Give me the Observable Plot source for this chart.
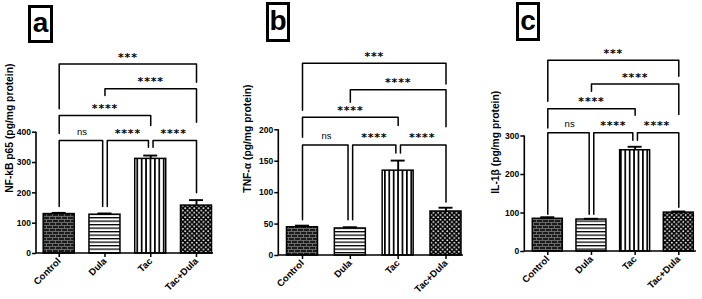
<!DOCTYPE html>
<html><head><meta charset="utf-8">
<script src="https://cdn.jsdelivr.net/npm/d3@7"></script>
<script src="https://cdn.jsdelivr.net/npm/@observablehq/plot@0.6"></script>
<style>
body{margin:0;background:#fff;}
#wrap{position:relative;width:702px;height:299px;display:flex;overflow:hidden;}
.panel{position:relative;flex:none;}
.tag{position:absolute;border:3px solid #000;box-sizing:border-box;font:bold 28px "Liberation Sans",Arial,sans-serif;display:flex;align-items:center;justify-content:center;line-height:1;padding-bottom:2px;}
</style></head><body><div id="wrap"></div>
<script>
// ---- data ----
const categories = ["Control", "Dula", "Tac", "Tac+Dula"];

const nfkbMean = [130, 128, 312, 158];
const nfkbErr  = [4, 4, 11, 18];
const nfkbTicks = [0, 100, 200, 300, 400];

const tnfMean = [45, 43, 135, 70];
const tnfErr  = [2.5, 2, 16, 6];
const tnfTicks = [0, 50, 100, 150, 200];

const il1Mean = [85, 83, 263, 101];
const il1Err  = [4, 2, 9, 3];
const il1Ticks = [0, 100, 200, 300];

// brackets: from, to, level value, left leg end, right leg end, label
const nfkbBrackets = [
  {from:0, to:1, y:373, yL:155, yR:155, label:"ns"},
  {from:1, to:2, y:373, yL:155, yR:350, label:"****"},
  {from:2, to:3, y:373, yL:350, yR:200, label:"****"},
  {from:0, to:2, y:455, yL:396, yR:422, label:"****"},
  {from:1, to:3, y:543, yL:521, yR:433, label:"****"},
  {from:0, to:3, y:625, yL:477, yR:565, label:"***"}
];
const tnfBrackets = [
  {from:0, to:1, y:176, yL:57, yR:57, label:"ns"},
  {from:1, to:2, y:176, yL:57, yR:163, label:"****"},
  {from:2, to:3, y:176, yL:163, yR:85, label:"****"},
  {from:0, to:2, y:220, yL:188, yR:207, label:"****"},
  {from:1, to:3, y:263.6, yL:244, yR:205, label:"****"},
  {from:0, to:3, y:306, yL:231, yR:273, label:"***"}
];
const il1Brackets = [
  {from:0, to:1, y:308.5, yL:97, yR:97, label:"ns"},
  {from:1, to:2, y:308.5, yL:97, yR:289, label:"****"},
  {from:2, to:3, y:308.5, yL:289, yR:115, label:"****"},
  {from:0, to:2, y:371, yL:321, yR:354, label:"****"},
  {from:1, to:3, y:435, yL:416, yR:356, label:"****"},
  {from:0, to:3, y:497, yL:390, yR:455, label:"***"}
];

const panels = [
  {id:"a", tag:"a", width:230, mean:nfkbMean, err:nfkbErr, ticks:nfkbTicks, yLabel:"NF-kB p65 (pg/mg protein)",
   brackets:nfkbBrackets, xRange:[58.7,196], mL:36, mR:17, mT:131.7, mB:46, barHalf:15.5, labelDx:27,
   tagBox:{left:28, top:5, w:25, h:38}},
  {id:"b", tag:"b", width:236, mean:tnfMean, err:tnfErr, ticks:tnfTicks, yLabel:"TNF-α (pg/mg protein)",
   brackets:tnfBrackets, xRange:[72,215.5], mL:48.3, mR:3, mT:129.3, mB:44, barHalf:15.5, labelDx:31,
   tagBox:{left:36, top:2, w:24, h:40}},
  {id:"c", tag:"c", width:236, mean:il1Mean, err:il1Err, ticks:il1Ticks, yLabel:"IL-1β (pg/mg protein)",
   brackets:il1Brackets, xRange:[81.3,212.3], mL:58.3, mR:6, mT:135.5, mB:48, barHalf:15, labelDx:29,
   tagBox:{left:50, top:2, w:24, h:39}}
];

function makeDefs(pid) {
  return () => {
    const g = d3.create("svg:g");
    const defs = g.append("defs");
    // brick
    const p0 = defs.append("pattern").attr("id", pid+"p0").attr("patternUnits","userSpaceOnUse").attr("width",6).attr("height",6);
    p0.append("rect").attr("width",6).attr("height",6).attr("fill","#1b1b1b");
    p0.append("path").attr("d","M0,0.5H6M0,3.5H6M1.5,0.5V3.5M4.5,3.5V6").attr("stroke","#8a8a8a").attr("stroke-width",0.7).attr("fill","none");
    // horizontal lines
    const p1 = defs.append("pattern").attr("id", pid+"p1").attr("patternUnits","userSpaceOnUse").attr("width",4).attr("height",3.5);
    p1.append("rect").attr("width",4).attr("height",3.5).attr("fill","#fff");
    p1.append("rect").attr("width",4).attr("height",1.3).attr("fill","#000");
    // vertical lines
    const p2 = defs.append("pattern").attr("id", pid+"p2").attr("patternUnits","userSpaceOnUse").attr("width",4.4).attr("height",4);
    p2.append("rect").attr("width",4.4).attr("height",4).attr("fill","#fff");
    p2.append("rect").attr("width",1.7).attr("height",4).attr("fill","#000");
    // dots
    const p3 = defs.append("pattern").attr("id", pid+"p3").attr("patternUnits","userSpaceOnUse").attr("width",4.6).attr("height",4.6);
    p3.append("rect").attr("width",4.6).attr("height",4.6).attr("fill","#000");
    p3.append("circle").attr("cx",1.15).attr("cy",1.15).attr("r",0.95).attr("fill","#fff");
    p3.append("circle").attr("cx",3.45).attr("cy",3.45).attr("r",0.95).attr("fill","#fff");
    return g.node();
  };
}

function axisLines(top) {
  return (index, scales, values, dims) => {
    const y = scales.y;
    const g = d3.create("svg:g");
    g.append("path")
      .attr("d", `M${dims.marginLeft},${y(top)}V${y(0)}H${dims.width - dims.marginRight}`)
      .attr("fill","none").attr("stroke","#000").attr("stroke-width",1.6);
    return g.node();
  };
}

const wrap = document.getElementById("wrap");

for (const P of panels) {
  const step = (P.xRange[1] - P.xRange[0]) / 3;
  const hw = P.barHalf / step;
  const cap = 7 / step;
  const shift = 2.3 / step;
  const top = P.ticks[P.ticks.length - 1];
  const rows = categories.map((c, i) => ({i, c, v: P.mean[i], e: P.err[i]}));

  const pts = [];
  P.brackets.forEach((b, k) => {
    let x1 = b.from, x2 = b.to;
    if (b.to - b.from === 1) {
      if (P.brackets.some(o => o !== b && o.y === b.y && o.from === b.to)) x2 -= shift;
      if (P.brackets.some(o => o !== b && o.y === b.y && o.to === b.from)) x1 += shift;
    }
    pts.push({k, x:x1, y:b.yL}, {k, x:x1, y:b.y}, {k, x:x2, y:b.y}, {k, x:x2, y:b.yR});
  });

  const stars = P.brackets.filter(b => b.label !== "ns");
  const ns = P.brackets.filter(b => b.label === "ns");

  const svg = Plot.plot({
    width: P.width,
    height: 299,
    marginLeft: P.mL, marginRight: P.mR, marginTop: P.mT, marginBottom: P.mB,
    style: {fontFamily: "'Liberation Sans', Arial, sans-serif", fontSize: "8.5px", color: "#000", background: "#fff", overflow: "visible"},
    x: {type: "linear", domain: [0, 3], range: P.xRange},
    y: {domain: [0, top]},
    color: {type: "identity"},
    marks: [
      makeDefs(P.id),
      Plot.rectY(rows, {x1: d => d.i - hw, x2: d => d.i + hw, y1: 0, y2: "v",
        fill: d => `url(#${P.id}p${d.i})`, stroke: "#000", strokeWidth: 1.5}),
      Plot.ruleX(rows, {x: "i", y1: "v", y2: d => d.v + d.e, stroke: "#000", strokeWidth: 1.9}),
      Plot.ruleY(rows, {y: d => d.v + d.e, x1: d => d.i - cap, x2: d => d.i + cap, stroke: "#000", strokeWidth: 1.9}),
      Plot.line(pts, {x: "x", y: "y", z: "k", stroke: "#000", strokeWidth: 1.5}),
      Plot.text(stars, {x: d => (d.from + d.to) / 2, y: "y", text: "label", dy: -7,
        fontFamily: "'DejaVu Sans', sans-serif", fontWeight: "bold", fontSize: 11, fill: "#000"}),
      Plot.text(ns, {x: d => (d.from + d.to) / 2, y: "y", text: "label", dy: -8.5,
        fontSize: 9.5, fill: "#000"}),
      axisLines(top),
      Plot.axisY({ticks: P.ticks, tickSize: 4, tickPadding: 1.5, fontWeight: "bold", fontSize: 8.5, label: null, strokeWidth: 1.5}),
      Plot.axisX({ticks: [0, 1, 2, 3], tickFormat: i => categories[i], tickRotate: -45, tickSize: 4, tickPadding: 2,
        fontWeight: "bold", fontSize: 9.5, label: null, strokeWidth: 1.5}),
      Plot.text([P.yLabel], {frameAnchor: "left", rotate: -90, dx: -P.labelDx, text: d => d,
        fontWeight: "bold", fontSize: 10.3, fill: "#000"})
    ]
  });

  d3.select(svg).selectAll("text")
    .filter(function() { return /^\*+$/.test(this.textContent); })
    .attr("letter-spacing", "0.8px");

  const div = document.createElement("div");
  div.className = "panel";
  div.style.width = P.width + "px";
  div.style.height = "299px";
  div.appendChild(svg);
  const tag = document.createElement("div");
  tag.className = "tag";
  tag.textContent = P.tag;
  tag.style.left = P.tagBox.left + "px";
  tag.style.top = P.tagBox.top + "px";
  tag.style.width = P.tagBox.w + "px";
  tag.style.height = P.tagBox.h + "px";
  div.appendChild(tag);
  wrap.appendChild(div);
}
</script></body></html>
